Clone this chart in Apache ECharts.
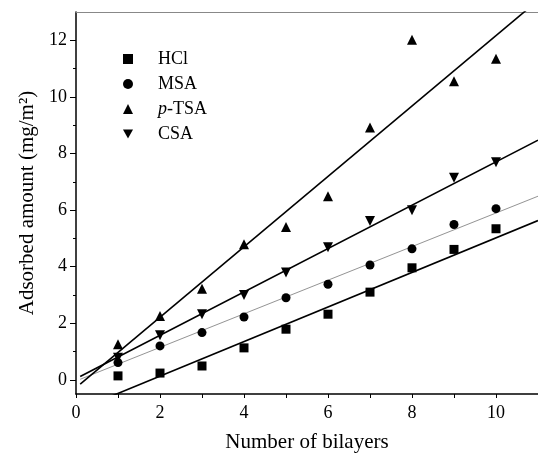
<!DOCTYPE html>
<html>
<head>
<meta charset="utf-8">
<script src="https://cdn.jsdelivr.net/npm/echarts@6/dist/echarts.min.js"></script>
<style>
  html, body { margin: 0; padding: 0; background: #fff; }
  #chart { width: 538px; height: 459px; }
</style>
</head>
<body>
<div id="chart"></div>
<script>
// measured points
const bilayers = [1, 2, 3, 4, 5, 6, 7, 8, 9, 10];
const hcl  = [0.14, 0.24, 0.49, 1.13, 1.79, 2.32, 3.10, 3.96, 4.61, 5.34];
const msa  = [0.61, 1.20, 1.67, 2.22, 2.90, 3.38, 4.06, 4.63, 5.49, 6.05];
const ptsa = [1.26, 2.26, 3.22, 4.79, 5.40, 6.49, 8.92, 12.02, 10.55, 11.35];
const csa  = [0.78, 1.58, 2.32, 3.00, 3.79, 4.69, 5.61, 5.99, 7.14, 7.69];

// fitted straight lines, end values
const fitX    = [0.1, 11];
const hclFit  = [-1.03, 5.63];
const msaFit  = [0.02, 6.49];
const ptsaFit = [-0.15, 13.41];
const csaFit  = [0.12, 8.47];

// ticks
const xLabels = [0, 2, 4, 6, 8, 10];
const xTicks = [0, 1, 2, 3, 4, 5, 6, 7, 8, 9, 10];
const yLabels = [0, 2, 4, 6, 8, 10, 12];
const yMinor = [1, 3, 5, 7, 9, 11];

const font = 'Liberation Serif';
const pair = (xs, ys) => xs.map((x, i) => [x, ys[i]]);
const downTri = 'path://M0,0 L10,0 L5,9 Z';

const chart = echarts.init(document.getElementById('chart'));

const scatter = (name, data, symbol, size) => ({
  name: name,
  type: 'scatter',
  data: pair(bilayers, data),
  symbol: symbol,
  symbolSize: size,
  itemStyle: { color: '#000', opacity: 1 },
  z: 5
});

const fit = (name, data, color, width) => ({
  name: name,
  type: 'line',
  data: pair(fitX, data),
  showSymbol: false,
  symbol: 'none',
  lineStyle: { color: color, width: width },
  clip: true,
  silent: true,
  z: 3
});

chart.setOption({
  animation: false,
  backgroundColor: '#fff',
  textStyle: { fontFamily: font, color: '#000' },
  grid: { left: 76, right: 0, top: 12, bottom: 65 },
  legend: {
    data: ['HCl', 'MSA', 'p-TSA', 'CSA'],
    orient: 'vertical',
    left: 118,
    top: 45,
    itemWidth: 10,
    itemHeight: 10,
    itemGap: 7,
    formatter: n => n === 'p-TSA' ? '{i|p}-TSA' : n,
    textStyle: {
      fontFamily: font, fontSize: 18, color: '#000', padding: [0, 0, 0, 20],
      rich: { i: { fontFamily: font, fontSize: 18, fontStyle: 'italic', color: '#000' } }
    }
  },
  xAxis: [{
    type: 'value',
    min: 0, max: 11, interval: 2,
    name: 'Number of bilayers',
    nameLocation: 'middle',
    nameGap: 38,
    nameTextStyle: { fontFamily: font, fontSize: 21, color: '#000' },
    axisLine: { onZero: false, lineStyle: { color: '#000', width: 1.5 } },
    axisTick: { customValues: xTicks, length: 4, lineStyle: { color: '#000' } },
    axisLabel: { customValues: xLabels, fontFamily: font, fontSize: 18, color: '#000', margin: 10 },
    splitLine: { show: false }
  }, {
    type: 'value',
    position: 'top',
    min: 0, max: 11,
    axisLine: { show: true, onZero: false, lineStyle: { color: '#888', width: 1 } },
    axisTick: { show: false },
    axisLabel: { show: false },
    splitLine: { show: false }
  }],
  yAxis: [{
    type: 'value',
    min: -0.5, max: 13,
    name: 'Adsorbed amount (mg/m²)',
    nameLocation: 'middle',
    nameGap: 36,
    nameTextStyle: { fontFamily: font, fontSize: 21, color: '#000' },
    axisLine: { onZero: false, lineStyle: { color: '#000', width: 1.5 } },
    axisTick: { customValues: yLabels, length: 6, lineStyle: { color: '#000' } },
    axisLabel: { customValues: yLabels, fontFamily: font, fontSize: 18, color: '#000', margin: 9 },
    splitLine: { show: false }
  }, {
    type: 'value',
    position: 'left',
    min: -0.5, max: 13,
    axisLine: { show: false, onZero: false },
    axisTick: { customValues: yMinor, length: 3, lineStyle: { color: '#000' } },
    axisLabel: { show: false },
    splitLine: { show: false }
  }],
  series: [
    fit('HCl fit', hclFit, '#000', 1.6),
    fit('MSA fit', msaFit, '#777', 0.8),
    fit('p-TSA fit', ptsaFit, '#000', 1.6),
    fit('CSA fit', csaFit, '#000', 1.6),
    scatter('HCl', hcl, 'rect', 9),
    scatter('MSA', msa, 'circle', 9),
    scatter('p-TSA', ptsa, 'triangle', 10),
    scatter('CSA', csa, downTri, 10)
  ]
});
</script>
</body>
</html>
